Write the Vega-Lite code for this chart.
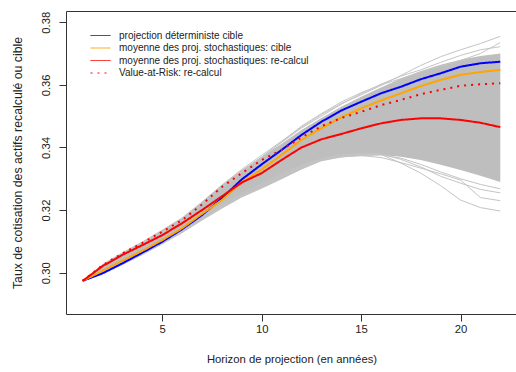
{
  "$schema": "https://vega.github.io/schema/vega-lite/v6.json",
  "width": 451,
  "height": 303,
  "autosize": {"type": "none"},
  "padding": {"left": 66, "top": 11, "right": 0, "bottom": 58},
  "background": "white",
  "datasets": {
    "band": [
      {"year": 1, "value": 0.2974, "hi": 0.2974},
      {"year": 2, "value": 0.2996, "hi": 0.3026},
      {"year": 3, "value": 0.3026, "hi": 0.3064},
      {"year": 4, "value": 0.3058, "hi": 0.3098},
      {"year": 5, "value": 0.3092, "hi": 0.3136},
      {"year": 6, "value": 0.3128, "hi": 0.3175},
      {"year": 7, "value": 0.3168, "hi": 0.3226},
      {"year": 8, "value": 0.3206, "hi": 0.3280},
      {"year": 9, "value": 0.3242, "hi": 0.3328},
      {"year": 10, "value": 0.3270, "hi": 0.3370},
      {"year": 11, "value": 0.3300, "hi": 0.3412},
      {"year": 12, "value": 0.3330, "hi": 0.3456},
      {"year": 13, "value": 0.3356, "hi": 0.3494},
      {"year": 14, "value": 0.3368, "hi": 0.3530},
      {"year": 15, "value": 0.3374, "hi": 0.3562},
      {"year": 16, "value": 0.3376, "hi": 0.3592},
      {"year": 17, "value": 0.3370, "hi": 0.3620},
      {"year": 18, "value": 0.3360, "hi": 0.3644},
      {"year": 19, "value": 0.3345, "hi": 0.3664},
      {"year": 20, "value": 0.3328, "hi": 0.3680},
      {"year": 21, "value": 0.3310, "hi": 0.3692},
      {"year": 22, "value": 0.3290, "hi": 0.3700}
    ],
    "sims": [
      {"sim": "U1", "year": 1, "value": 0.2974}, {"sim": "U1", "year": 2, "value": 0.3026}, {"sim": "U1", "year": 3, "value": 0.3064}, {"sim": "U1", "year": 4, "value": 0.3098}, {"sim": "U1", "year": 5, "value": 0.3136}, {"sim": "U1", "year": 6, "value": 0.3175}, {"sim": "U1", "year": 7, "value": 0.3226}, {"sim": "U1", "year": 8, "value": 0.3280}, {"sim": "U1", "year": 9, "value": 0.3330}, {"sim": "U1", "year": 10, "value": 0.3375}, {"sim": "U1", "year": 11, "value": 0.3420}, {"sim": "U1", "year": 12, "value": 0.3465}, {"sim": "U1", "year": 13, "value": 0.3505}, {"sim": "U1", "year": 14, "value": 0.3540}, {"sim": "U1", "year": 15, "value": 0.3568}, {"sim": "U1", "year": 16, "value": 0.3598}, {"sim": "U1", "year": 17, "value": 0.3630}, {"sim": "U1", "year": 18, "value": 0.3662}, {"sim": "U1", "year": 19, "value": 0.3690}, {"sim": "U1", "year": 20, "value": 0.3712}, {"sim": "U1", "year": 21, "value": 0.3732}, {"sim": "U1", "year": 22, "value": 0.3755},
      {"sim": "U2", "year": 1, "value": 0.2974}, {"sim": "U2", "year": 2, "value": 0.3024}, {"sim": "U2", "year": 3, "value": 0.3060}, {"sim": "U2", "year": 4, "value": 0.3094}, {"sim": "U2", "year": 5, "value": 0.3130}, {"sim": "U2", "year": 6, "value": 0.3170}, {"sim": "U2", "year": 7, "value": 0.3220}, {"sim": "U2", "year": 8, "value": 0.3274}, {"sim": "U2", "year": 9, "value": 0.3324}, {"sim": "U2", "year": 10, "value": 0.3370}, {"sim": "U2", "year": 11, "value": 0.3416}, {"sim": "U2", "year": 12, "value": 0.3462}, {"sim": "U2", "year": 13, "value": 0.3500}, {"sim": "U2", "year": 14, "value": 0.3538}, {"sim": "U2", "year": 15, "value": 0.3572}, {"sim": "U2", "year": 16, "value": 0.3602}, {"sim": "U2", "year": 17, "value": 0.3628}, {"sim": "U2", "year": 18, "value": 0.3648}, {"sim": "U2", "year": 19, "value": 0.3672}, {"sim": "U2", "year": 20, "value": 0.3694}, {"sim": "U2", "year": 21, "value": 0.3712}, {"sim": "U2", "year": 22, "value": 0.3722},
      {"sim": "U3", "year": 1, "value": 0.2974}, {"sim": "U3", "year": 2, "value": 0.3022}, {"sim": "U3", "year": 3, "value": 0.3058}, {"sim": "U3", "year": 4, "value": 0.3092}, {"sim": "U3", "year": 5, "value": 0.3128}, {"sim": "U3", "year": 6, "value": 0.3168}, {"sim": "U3", "year": 7, "value": 0.3216}, {"sim": "U3", "year": 8, "value": 0.3268}, {"sim": "U3", "year": 9, "value": 0.3320}, {"sim": "U3", "year": 10, "value": 0.3368}, {"sim": "U3", "year": 11, "value": 0.3418}, {"sim": "U3", "year": 12, "value": 0.3468}, {"sim": "U3", "year": 13, "value": 0.3508}, {"sim": "U3", "year": 14, "value": 0.3545}, {"sim": "U3", "year": 15, "value": 0.3575}, {"sim": "U3", "year": 16, "value": 0.3600}, {"sim": "U3", "year": 17, "value": 0.3620}, {"sim": "U3", "year": 18, "value": 0.3640}, {"sim": "U3", "year": 19, "value": 0.3660}, {"sim": "U3", "year": 20, "value": 0.3678}, {"sim": "U3", "year": 21, "value": 0.3700}, {"sim": "U3", "year": 22, "value": 0.3735},
      {"sim": "L1", "year": 1, "value": 0.2974}, {"sim": "L1", "year": 2, "value": 0.2996}, {"sim": "L1", "year": 3, "value": 0.3026}, {"sim": "L1", "year": 4, "value": 0.3058}, {"sim": "L1", "year": 5, "value": 0.3092}, {"sim": "L1", "year": 6, "value": 0.3128}, {"sim": "L1", "year": 7, "value": 0.3168}, {"sim": "L1", "year": 8, "value": 0.3206}, {"sim": "L1", "year": 9, "value": 0.3242}, {"sim": "L1", "year": 10, "value": 0.3270}, {"sim": "L1", "year": 11, "value": 0.3300}, {"sim": "L1", "year": 12, "value": 0.3332}, {"sim": "L1", "year": 13, "value": 0.3360}, {"sim": "L1", "year": 14, "value": 0.3372}, {"sim": "L1", "year": 15, "value": 0.3378}, {"sim": "L1", "year": 16, "value": 0.3378}, {"sim": "L1", "year": 17, "value": 0.3350}, {"sim": "L1", "year": 18, "value": 0.3318}, {"sim": "L1", "year": 19, "value": 0.3278}, {"sim": "L1", "year": 20, "value": 0.3232}, {"sim": "L1", "year": 21, "value": 0.3208}, {"sim": "L1", "year": 22, "value": 0.3197},
      {"sim": "L2", "year": 1, "value": 0.2974}, {"sim": "L2", "year": 2, "value": 0.2998}, {"sim": "L2", "year": 3, "value": 0.3028}, {"sim": "L2", "year": 4, "value": 0.3060}, {"sim": "L2", "year": 5, "value": 0.3095}, {"sim": "L2", "year": 6, "value": 0.3132}, {"sim": "L2", "year": 7, "value": 0.3172}, {"sim": "L2", "year": 8, "value": 0.3212}, {"sim": "L2", "year": 9, "value": 0.3248}, {"sim": "L2", "year": 10, "value": 0.3278}, {"sim": "L2", "year": 11, "value": 0.3310}, {"sim": "L2", "year": 12, "value": 0.3340}, {"sim": "L2", "year": 13, "value": 0.3364}, {"sim": "L2", "year": 14, "value": 0.3376}, {"sim": "L2", "year": 15, "value": 0.3382}, {"sim": "L2", "year": 16, "value": 0.3380}, {"sim": "L2", "year": 17, "value": 0.3362}, {"sim": "L2", "year": 18, "value": 0.3338}, {"sim": "L2", "year": 19, "value": 0.3308}, {"sim": "L2", "year": 20, "value": 0.3286}, {"sim": "L2", "year": 21, "value": 0.3266}, {"sim": "L2", "year": 22, "value": 0.3255},
      {"sim": "L3", "year": 1, "value": 0.2974}, {"sim": "L3", "year": 2, "value": 0.2998}, {"sim": "L3", "year": 3, "value": 0.3030}, {"sim": "L3", "year": 4, "value": 0.3062}, {"sim": "L3", "year": 5, "value": 0.3098}, {"sim": "L3", "year": 6, "value": 0.3136}, {"sim": "L3", "year": 7, "value": 0.3178}, {"sim": "L3", "year": 8, "value": 0.3218}, {"sim": "L3", "year": 9, "value": 0.3254}, {"sim": "L3", "year": 10, "value": 0.3284}, {"sim": "L3", "year": 11, "value": 0.3316}, {"sim": "L3", "year": 12, "value": 0.3344}, {"sim": "L3", "year": 13, "value": 0.3362}, {"sim": "L3", "year": 14, "value": 0.3370}, {"sim": "L3", "year": 15, "value": 0.3374}, {"sim": "L3", "year": 16, "value": 0.3376}, {"sim": "L3", "year": 17, "value": 0.3366}, {"sim": "L3", "year": 18, "value": 0.3346}, {"sim": "L3", "year": 19, "value": 0.3322}, {"sim": "L3", "year": 20, "value": 0.3300}, {"sim": "L3", "year": 21, "value": 0.3282}, {"sim": "L3", "year": 22, "value": 0.3268},
      {"sim": "L4", "year": 1, "value": 0.2974}, {"sim": "L4", "year": 2, "value": 0.2997}, {"sim": "L4", "year": 3, "value": 0.3027}, {"sim": "L4", "year": 4, "value": 0.3059}, {"sim": "L4", "year": 5, "value": 0.3094}, {"sim": "L4", "year": 6, "value": 0.3130}, {"sim": "L4", "year": 7, "value": 0.3170}, {"sim": "L4", "year": 8, "value": 0.3210}, {"sim": "L4", "year": 9, "value": 0.3246}, {"sim": "L4", "year": 10, "value": 0.3274}, {"sim": "L4", "year": 11, "value": 0.3306}, {"sim": "L4", "year": 12, "value": 0.3336}, {"sim": "L4", "year": 13, "value": 0.3360}, {"sim": "L4", "year": 14, "value": 0.3372}, {"sim": "L4", "year": 15, "value": 0.3374}, {"sim": "L4", "year": 16, "value": 0.3368}, {"sim": "L4", "year": 17, "value": 0.3352}, {"sim": "L4", "year": 18, "value": 0.3334}, {"sim": "L4", "year": 19, "value": 0.3316}, {"sim": "L4", "year": 20, "value": 0.3296}, {"sim": "L4", "year": 21, "value": 0.3240}, {"sim": "L4", "year": 22, "value": 0.3230}
    ],
    "main": [
      {"series": "projection déterministe cible", "year": 1, "value": 0.2974},
      {"series": "projection déterministe cible", "year": 2, "value": 0.2998},
      {"series": "projection déterministe cible", "year": 3, "value": 0.3030},
      {"series": "projection déterministe cible", "year": 4, "value": 0.3064},
      {"series": "projection déterministe cible", "year": 5, "value": 0.3099},
      {"series": "projection déterministe cible", "year": 6, "value": 0.3139},
      {"series": "projection déterministe cible", "year": 7, "value": 0.3184},
      {"series": "projection déterministe cible", "year": 8, "value": 0.3238},
      {"series": "projection déterministe cible", "year": 9, "value": 0.3298},
      {"series": "projection déterministe cible", "year": 10, "value": 0.3346},
      {"series": "projection déterministe cible", "year": 11, "value": 0.3392},
      {"series": "projection déterministe cible", "year": 12, "value": 0.3440},
      {"series": "projection déterministe cible", "year": 13, "value": 0.3482},
      {"series": "projection déterministe cible", "year": 14, "value": 0.3518},
      {"series": "projection déterministe cible", "year": 15, "value": 0.3546},
      {"series": "projection déterministe cible", "year": 16, "value": 0.3573},
      {"series": "projection déterministe cible", "year": 17, "value": 0.3594},
      {"series": "projection déterministe cible", "year": 18, "value": 0.3618},
      {"series": "projection déterministe cible", "year": 19, "value": 0.3637},
      {"series": "projection déterministe cible", "year": 20, "value": 0.3658},
      {"series": "projection déterministe cible", "year": 21, "value": 0.3669},
      {"series": "projection déterministe cible", "year": 22, "value": 0.3674},
      {"series": "moyenne des proj. stochastiques: cible", "year": 1, "value": 0.2974},
      {"series": "moyenne des proj. stochastiques: cible", "year": 2, "value": 0.3006},
      {"series": "moyenne des proj. stochastiques: cible", "year": 3, "value": 0.3038},
      {"series": "moyenne des proj. stochastiques: cible", "year": 4, "value": 0.3070},
      {"series": "moyenne des proj. stochastiques: cible", "year": 5, "value": 0.3104},
      {"series": "moyenne des proj. stochastiques: cible", "year": 6, "value": 0.3142},
      {"series": "moyenne des proj. stochastiques: cible", "year": 7, "value": 0.3188},
      {"series": "moyenne des proj. stochastiques: cible", "year": 8, "value": 0.3232},
      {"series": "moyenne des proj. stochastiques: cible", "year": 9, "value": 0.3289},
      {"series": "moyenne des proj. stochastiques: cible", "year": 10, "value": 0.3330},
      {"series": "moyenne des proj. stochastiques: cible", "year": 11, "value": 0.3376},
      {"series": "moyenne des proj. stochastiques: cible", "year": 12, "value": 0.3424},
      {"series": "moyenne des proj. stochastiques: cible", "year": 13, "value": 0.3461},
      {"series": "moyenne des proj. stochastiques: cible", "year": 14, "value": 0.3496},
      {"series": "moyenne des proj. stochastiques: cible", "year": 15, "value": 0.3525},
      {"series": "moyenne des proj. stochastiques: cible", "year": 16, "value": 0.3550},
      {"series": "moyenne des proj. stochastiques: cible", "year": 17, "value": 0.3573},
      {"series": "moyenne des proj. stochastiques: cible", "year": 18, "value": 0.3596},
      {"series": "moyenne des proj. stochastiques: cible", "year": 19, "value": 0.3616},
      {"series": "moyenne des proj. stochastiques: cible", "year": 20, "value": 0.3632},
      {"series": "moyenne des proj. stochastiques: cible", "year": 21, "value": 0.3641},
      {"series": "moyenne des proj. stochastiques: cible", "year": 22, "value": 0.3648},
      {"series": "moyenne des proj. stochastiques: re-calcul", "year": 1, "value": 0.2974},
      {"series": "moyenne des proj. stochastiques: re-calcul", "year": 2, "value": 0.3021},
      {"series": "moyenne des proj. stochastiques: re-calcul", "year": 3, "value": 0.3057},
      {"series": "moyenne des proj. stochastiques: re-calcul", "year": 4, "value": 0.3088},
      {"series": "moyenne des proj. stochastiques: re-calcul", "year": 5, "value": 0.3120},
      {"series": "moyenne des proj. stochastiques: re-calcul", "year": 6, "value": 0.3158},
      {"series": "moyenne des proj. stochastiques: re-calcul", "year": 7, "value": 0.3200},
      {"series": "moyenne des proj. stochastiques: re-calcul", "year": 8, "value": 0.3244},
      {"series": "moyenne des proj. stochastiques: re-calcul", "year": 9, "value": 0.3288},
      {"series": "moyenne des proj. stochastiques: re-calcul", "year": 10, "value": 0.3318},
      {"series": "moyenne des proj. stochastiques: re-calcul", "year": 11, "value": 0.3360},
      {"series": "moyenne des proj. stochastiques: re-calcul", "year": 12, "value": 0.3400},
      {"series": "moyenne des proj. stochastiques: re-calcul", "year": 13, "value": 0.3426},
      {"series": "moyenne des proj. stochastiques: re-calcul", "year": 14, "value": 0.3443},
      {"series": "moyenne des proj. stochastiques: re-calcul", "year": 15, "value": 0.3461},
      {"series": "moyenne des proj. stochastiques: re-calcul", "year": 16, "value": 0.3477},
      {"series": "moyenne des proj. stochastiques: re-calcul", "year": 17, "value": 0.3488},
      {"series": "moyenne des proj. stochastiques: re-calcul", "year": 18, "value": 0.3493},
      {"series": "moyenne des proj. stochastiques: re-calcul", "year": 19, "value": 0.3493},
      {"series": "moyenne des proj. stochastiques: re-calcul", "year": 20, "value": 0.3488},
      {"series": "moyenne des proj. stochastiques: re-calcul", "year": 21, "value": 0.3479},
      {"series": "moyenne des proj. stochastiques: re-calcul", "year": 22, "value": 0.3465},
      {"series": "Value-at-Risk: re-calcul", "year": 1, "value": 0.2974},
      {"series": "Value-at-Risk: re-calcul", "year": 2, "value": 0.3024},
      {"series": "Value-at-Risk: re-calcul", "year": 3, "value": 0.3062},
      {"series": "Value-at-Risk: re-calcul", "year": 4, "value": 0.3095},
      {"series": "Value-at-Risk: re-calcul", "year": 5, "value": 0.3131},
      {"series": "Value-at-Risk: re-calcul", "year": 6, "value": 0.3168},
      {"series": "Value-at-Risk: re-calcul", "year": 7, "value": 0.3218},
      {"series": "Value-at-Risk: re-calcul", "year": 8, "value": 0.3274},
      {"series": "Value-at-Risk: re-calcul", "year": 9, "value": 0.3318},
      {"series": "Value-at-Risk: re-calcul", "year": 10, "value": 0.3360},
      {"series": "Value-at-Risk: re-calcul", "year": 11, "value": 0.3392},
      {"series": "Value-at-Risk: re-calcul", "year": 12, "value": 0.3432},
      {"series": "Value-at-Risk: re-calcul", "year": 13, "value": 0.3468},
      {"series": "Value-at-Risk: re-calcul", "year": 14, "value": 0.3494},
      {"series": "Value-at-Risk: re-calcul", "year": 15, "value": 0.3514},
      {"series": "Value-at-Risk: re-calcul", "year": 16, "value": 0.3535},
      {"series": "Value-at-Risk: re-calcul", "year": 17, "value": 0.3552},
      {"series": "Value-at-Risk: re-calcul", "year": 18, "value": 0.3570},
      {"series": "Value-at-Risk: re-calcul", "year": 19, "value": 0.3584},
      {"series": "Value-at-Risk: re-calcul", "year": 20, "value": 0.3597},
      {"series": "Value-at-Risk: re-calcul", "year": 21, "value": 0.3602},
      {"series": "Value-at-Risk: re-calcul", "year": 22, "value": 0.3605}
    ]
  },
  "encoding": {
    "x": {"field": "year", "type": "quantitative", "scale": {"domain": [0.16, 22.84], "nice": false, "zero": false}, "axis": {"values": [5, 10, 15, 20], "title": "Horizon de projection (en années)"}},
    "y": {"field": "value", "type": "quantitative", "scale": {"domain": [0.2868, 0.3836], "nice": false, "zero": false}, "axis": {"values": [0.30, 0.32, 0.34, 0.36, 0.38], "format": ".2f", "title": ["Taux de cotisation des actifs recalculé ou cible"], "titleLimit": 1000}}
  },
  "layer": [
    {
      "data": {"name": "band"},
      "mark": {"type": "area", "color": "#bebebe", "opacity": 1, "clip": true},
      "encoding": {
        "y2": {"field": "hi"}
      }
    },
    {
      "data": {"name": "sims"},
      "mark": {"type": "line", "color": "#c4c4c4", "strokeWidth": 1, "clip": true},
      "encoding": {
        "detail": {"field": "sim"}
      }
    },
    {
      "data": {"name": "main"},
      "mark": {"type": "line", "strokeWidth": 2, "clip": true},
      "encoding": {
        "color": {
          "field": "series", "type": "nominal",
          "scale": {"domain": ["projection déterministe cible", "moyenne des proj. stochastiques: cible", "moyenne des proj. stochastiques: re-calcul", "Value-at-Risk: re-calcul"], "range": ["#0000ff", "#ffa500", "#ff0000", "#ff0000"]},
          "legend": {"title": null}
        },
        "strokeDash": {
          "field": "series", "type": "nominal",
          "scale": {"domain": ["projection déterministe cible", "moyenne des proj. stochastiques: cible", "moyenne des proj. stochastiques: re-calcul", "Value-at-Risk: re-calcul"], "range": [[1, 0], [1, 0], [1, 0], [2, 5]]},
          "legend": {"title": null}
        }
      }
    }
  ],
  "config": {
    "font": "Liberation Sans",
    "view": {"stroke": "#333333", "strokeWidth": 1},
    "axis": {"domain": false, "grid": false, "tickColor": "#333333", "tickSize": 7, "labelColor": "#222222", "titleColor": "#222222", "labelFontSize": 11.3, "titleFontSize": 11.3, "titleFontWeight": "normal", "labelFont": "Liberation Sans", "titleFont": "Liberation Sans"},
    "axisX": {"labelPadding": 2, "labelBaseline": "top", "titleBaseline": "alphabetic", "titleY": 48},
    "axisY": {"labelAngle": -90, "labelAlign": "center", "labelBaseline": "alphabetic", "labelPadding": 10, "titleFontSize": 12.3, "titlePadding": 16},
    "legend": {"orient": "none", "legendX": 29, "legendY": 19, "padding": 0, "symbolType": "M-2,0L2,0", "symbolSize": 100, "symbolStrokeWidth": 1, "labelFontSize": 10, "labelColor": "#222222", "labelFont": "Liberation Sans", "labelOffset": 13, "rowPadding": 1.5, "labelLimit": 400}
  }
}
